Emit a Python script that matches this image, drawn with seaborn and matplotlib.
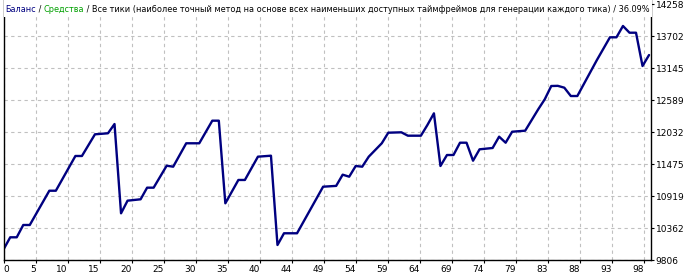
import matplotlib
matplotlib.use("Agg")
import matplotlib.pyplot as plt
import seaborn as sns
import pandas as pd
from matplotlib.patches import Rectangle

# ---- data (trade number -> balance, vertices) ----
trades = [0, 1, 2, 3, 4, 7, 8, 11, 12, 14, 16, 17, 18, 19, 21, 22, 23, 25, 26,
          28, 30, 32, 33, 34, 36, 37, 39, 41, 42, 43, 45, 49, 51, 52, 53, 54,
          55, 56, 58, 59, 61, 62, 64, 65, 66, 67, 68, 69, 70, 71, 72, 73, 75,
          76, 77, 78, 80, 82, 83, 84, 85, 86, 87, 88, 91, 93, 94, 95, 96, 97,
          98, 99]
balance = [10000, 10206, 10206, 10420, 10420, 11016, 11016, 11620, 11620, 11997,
           12015, 12176, 10623, 10843, 10867, 11069, 11069, 11451, 11434, 11841,
           11841, 12234, 12234, 10797, 11203, 11203, 11608, 11625, 10072, 10276,
           10276, 11086, 11100, 11295, 11260, 11446, 11434, 11608, 11841, 12025,
           12032, 11973, 11973, 12159, 12362, 11446, 11637, 11637, 11851, 11851,
           11538, 11736, 11759, 11956, 11851, 12042, 12060, 12432, 12606, 12837,
           12840, 12808, 12663, 12663, 13289, 13684, 13684, 13881, 13764, 13764,
           13185, 13376]

x_labels = ["0", "5", "10", "15", "20", "25", "30", "35", "40", "44", "49", "54",
            "59", "64", "69", "74", "79", "83", "88", "93", "98"]
y_ticks = [9806, 10362, 10919, 11475, 12032, 12589, 13145, 13702, 14258]

title_parts = [("Баланс", "#000080"),
               (" / ", "black"),
               ("Средства", "#00a000"),
               (" / Все тики (наиболее точный метод на основе всех наименьших доступных "
                "таймфреймов для генерации каждого тика) / 36.09%", "black")]

X_STEP = 4.91  # trades per vertical grid division

df = pd.DataFrame({"trade": trades, "balance": balance})

sns.set_style("white")
plt.rcParams['font.family'] = ['DejaVu Sans']

W, H = 684, 274
fig = plt.figure(figsize=(W / 100, H / 100), dpi=100)
left, right, top, bottom = 3.7, 651.0, 0.0, 260.3
ax = fig.add_axes([left / W, (H - bottom) / H, (right - left) / W, (bottom - top) / H])

sns.lineplot(data=df, x="trade", y="balance", ax=ax, color="#000080",
             linewidth=1.7, sort=False, estimator=None)

ax.set_xlim(0, 99.3)
ax.set_ylim(9806, 9806 + (14258 - 9806) * (bottom - top) / (bottom - 4.3))

xt = [k * X_STEP for k in range(len(x_labels))]
ax.set_xticks(xt)
ax.set_xticklabels(x_labels)
for i, lab in enumerate(ax.get_xticklabels()):
    lab.set_ha("left" if i == 0 else "right")
ax.set_yticks(y_ticks)
ax.set_yticklabels([str(v) for v in y_ticks])
ax.yaxis.tick_right()

ax.tick_params(axis="both", which="both", direction="out", length=2, width=0.8,
               color="black", labelsize=6.5, pad=1.5, labelcolor="black")
ax.tick_params(axis="x", bottom=True, top=False)
ax.tick_params(axis="y", right=True, left=False)

ax.grid(True, color="#c0c0c0", linestyle=(0, (3, 3)), linewidth=0.8)
ax.set_xlabel("")
ax.set_ylabel("")
for side in ["left", "right", "bottom"]:
    ax.spines[side].set_visible(True)
    ax.spines[side].set_color("black")
    ax.spines[side].set_linewidth(1.0)
ax.spines["top"].set_visible(False)

# ---- multi-coloured caption ----
fig.canvas.draw()
r = fig.canvas.get_renderer()
fs = 7.5
texts = []
x0, y0 = 5.0, H - 9.5
x = x0
for s, c in title_parts:
    t = fig.text(x / W, y0 / H, s, color=c, fontsize=fs, va="center", ha="left",
                 family=["Liberation Sans Narrow", "DejaVu Sans"], zorder=5)
    w = t.get_window_extent(r).width
    texts.append(t)
    x += w
total = x - x0
scale = 643.0 / total
fs2 = fs * scale
x = x0
for t in texts:
    t.set_fontsize(fs2)
    t.set_x(x / W)
    x += t.get_window_extent(r).width
fig.patches.append(Rectangle((left / W, (H - 17) / H), (x + 2 - left) / W, 17 / H,
                             transform=fig.transFigure, facecolor="white",
                             edgecolor="none", zorder=4))

fig.savefig("out.png", dpi=100)
